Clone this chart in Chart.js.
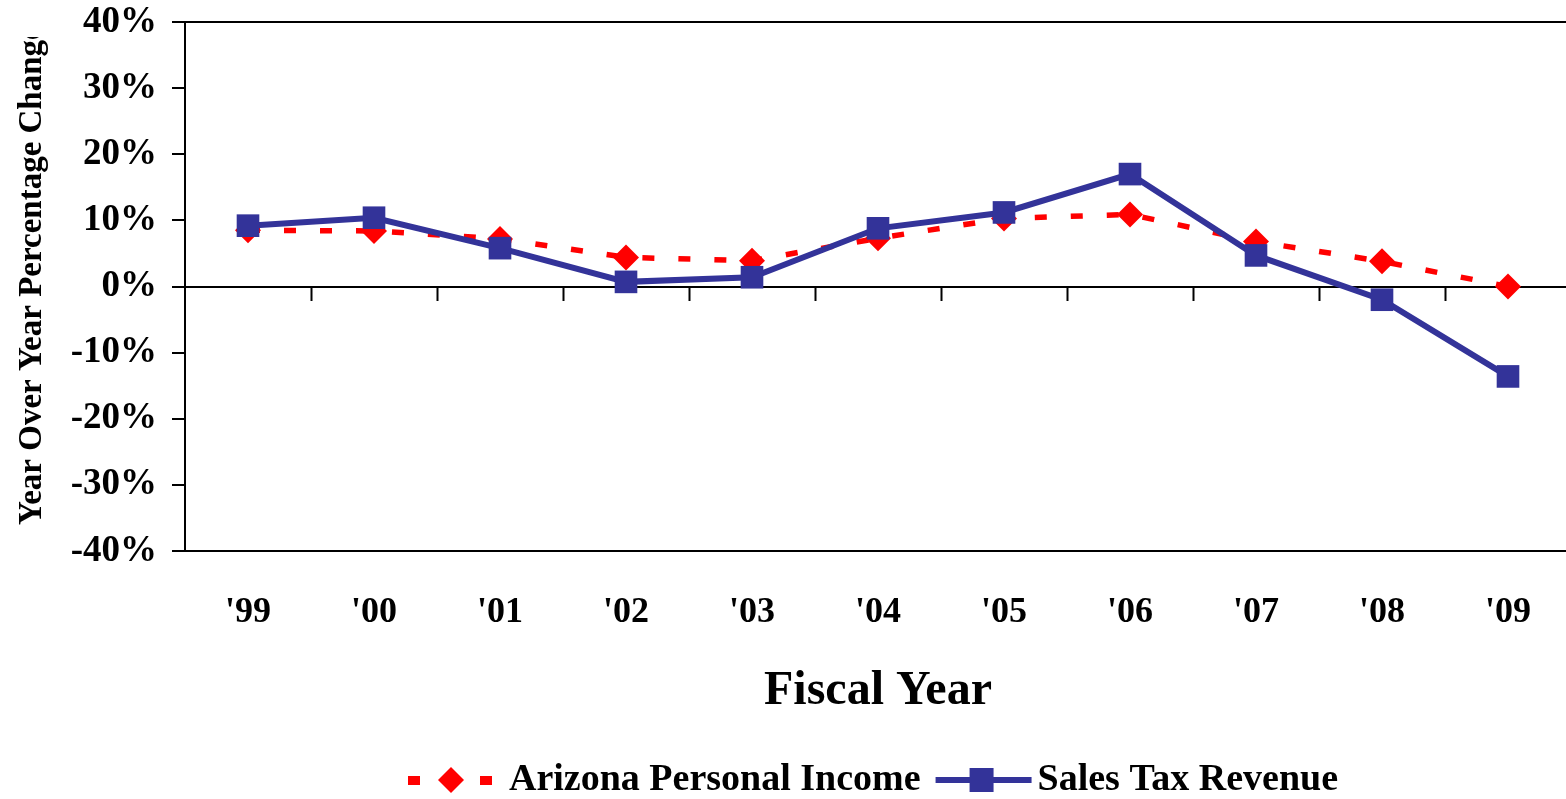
<!DOCTYPE html>
<html>
<head>
<meta charset="utf-8">
<title>Sales Tax Revenue vs Arizona Personal Income</title>
<script src="https://cdn.jsdelivr.net/npm/chart.js@4.4.0/dist/chart.umd.min.js"></script>
<style>
  html, body { margin: 0; padding: 0; background: #fff; overflow: hidden; }
  #wrap { width: 1571px; height: 799px; position: relative; }
</style>
</head>
<body>
<div id="wrap"><canvas id="myChart"></canvas></div>
<script>
// data (percent change, fiscal year)
const years = ["'99", "'00", "'01", "'02", "'03", "'04", "'05", "'06", "'07", "'08", "'09"];
const personalIncome = [8.5, 8.4, 7.2, 4.4, 3.9, 7.3, 10.3, 10.9, 6.8, 3.8, 0.0];
const salesTax = [9.2, 10.4, 5.8, 0.7, 1.4, 8.8, 11.2, 17.0, 4.7, -2.0, -13.6];
const yTicks = [40, 30, 20, 10, 0, -10, -20, -30, -40];

const seriesNames = ["Arizona Personal Income", "Sales Tax Revenue"];
const yTitle = "Year Over Year Percentage Change";
const xTitle = "Fiscal Year";

const RED = "#ff0000";
const BLUE = "#333399";
const FONT = '"Liberation Serif", "Times New Roman", serif';

// legend samples: line + marker, like the spreadsheet legend
function makeSample(kind) {
  const c = document.createElement("canvas");
  c.width = 130;
  c.height = 30;
  const g = c.getContext("2d");
  if (kind === "income") {
    g.fillStyle = RED;
    g.fillRect(19, 11, 12, 9);
    g.beginPath();
    g.moveTo(62, 2);
    g.lineTo(75, 15);
    g.lineTo(62, 28);
    g.lineTo(49, 15);
    g.closePath();
    g.fill();
    g.fillRect(91, 11, 12, 9);
  } else {
    g.fillStyle = BLUE;
    g.fillRect(18, 12, 96, 6);
    g.fillRect(52, 3, 24, 24);
  }
  return c;
}
const incomeSample = makeSample("income");
const salesSample = makeSample("sales");

// rotated y title, clipped near the top like the original text box
const yTitlePlugin = {
  id: "yTitle",
  afterDraw(chart) {
    const ctx = chart.ctx;
    ctx.save();
    ctx.beginPath();
    ctx.rect(0, 37, 90, 700);
    ctx.clip();
    ctx.translate(41, chart.chartArea.bottom - 26);
    ctx.rotate(-Math.PI / 2);
    ctx.font = "bold 33px " + FONT;
    ctx.fillStyle = "#000";
    ctx.textAlign = "left";
    ctx.textBaseline = "alphabetic";
    ctx.fillText(yTitle, 0, 0);
    ctx.restore();
  }
};

// keep the plot area where the original has it (no label overflow padding)
function noPad(s) {
  s.paddingLeft = 0;
  s.paddingRight = 0;
  s.paddingTop = 0;
  s.paddingBottom = 0;
}

const myChart = document.querySelector("#myChart");

let chart = new Chart(myChart, {
  type: "line",
  data: {
    labels: years,
    datasets: [
      {
        label: seriesNames[1],
        data: salesTax,
        borderColor: BLUE,
        backgroundColor: BLUE,
        borderWidth: 6,
        pointStyle: "rect",
        pointRadius: 16,
        pointBackgroundColor: BLUE,
        pointBorderWidth: 0,
        tension: 0,
        order: 0,
      },
      {
        label: seriesNames[0],
        data: personalIncome,
        borderColor: RED,
        backgroundColor: RED,
        borderWidth: 5.5,
        borderDash: [12, 24],
        borderCapStyle: "butt",
        pointStyle: "rectRot",
        pointRadius: 13,
        pointBackgroundColor: RED,
        pointBorderWidth: 0,
        tension: 0,
        order: 1,
      },
    ],
  },
  options: {
    responsive: true,
    maintainAspectRatio: false,
    animation: false,
    layout: { autoPadding: false, padding: { top: 22, left: 0, right: 0, bottom: -10 } },
    plugins: {
      tooltip: { enabled: false },
      legend: {
        position: "bottom",
        fullSize: false,
        labels: {
          usePointStyle: true,
          pointStyleWidth: 72,
          boxHeight: 30,
          padding: 26,
          color: "#000",
          font: { family: FONT, size: 38, weight: "bold" },
          generateLabels: () => [
            { text: seriesNames[0], pointStyle: incomeSample, fillStyle: RED, strokeStyle: RED, lineWidth: 0, hidden: false, datasetIndex: 1, fontColor: "#000" },
            { text: seriesNames[1], pointStyle: salesSample, fillStyle: BLUE, strokeStyle: BLUE, lineWidth: 0, hidden: false, datasetIndex: 0, fontColor: "#000" },
          ],
        },
      },
    },
    scales: {
      x: {
        type: "category",
        offset: true,
        grid: { display: false },
        border: { display: true, color: "#000", width: 2 },
        ticks: { color: "#000", padding: 32, maxRotation: 0, font: { family: FONT, size: 36, weight: "bold" } },
        title: {
          display: true,
          text: xTitle,
          color: "#000",
          font: { family: FONT, size: 48, weight: "bold" },
          padding: { top: 20, bottom: 15 },
        },
        afterFit: (s) => { s.height = 184; noPad(s); },
      },
      // zero line with the small downward ticks between years
      xZero: {
        type: "category",
        axis: "x",
        position: { y: 0 },
        offset: true,
        grid: {
          offset: true,
          drawOnChartArea: false,
          drawTicks: true,
          tickLength: 13,
          tickWidth: 2,
          tickColor: (ctx) => (ctx.index === 0 ? "rgba(0,0,0,0)" : "#000"),
        },
        border: { display: true, color: "#000", width: 2 },
        ticks: { display: false },
        afterFit: noPad,
      },
      y: {
        min: -40,
        max: 40,
        afterBuildTicks: (s) => { s.ticks = yTicks.map((v) => ({ value: v })); },
        ticks: {
          color: "#000",
          padding: 15,
          font: { family: FONT, size: 37, weight: "bold" },
          callback: (v) => v + "%",
        },
        grid: {
          color: (ctx) => (ctx.tick && ctx.tick.value === 40 ? "#000" : "rgba(0,0,0,0)"),
          lineWidth: 2,
          tickLength: 13,
          tickWidth: 2,
          tickColor: "#000",
        },
        border: { display: true, color: "#000", width: 2 },
        afterFit: (s) => { s.width = 185; noPad(s); },
      },
    },
  },
  plugins: [yTitlePlugin],
});
</script>
</body>
</html>
